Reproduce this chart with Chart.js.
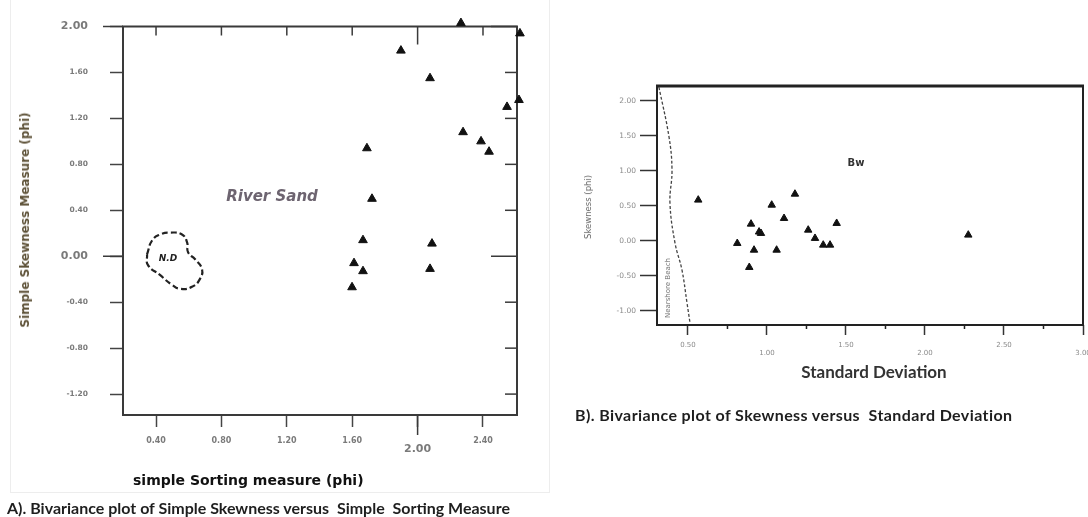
<!DOCTYPE html>
<html lang="en">
<head>
<meta charset="UTF-8" />
<title>Bivariance plots</title>
<script src="https://cdn.jsdelivr.net/npm/chart.js"></script>
<style>
  html, body { margin: 0; padding: 0; background: #fff; }
  body { position: relative; width: 1088px; height: 517px; overflow: hidden; }
  canvas { position: absolute; top: 0; }
  #chartA { left: 0; }
  #chartB { left: 560px; }
  .txt { position: absolute; white-space: pre; line-height: 1; }
  .c { transform: translate(-50%, -50%); }
  .rot { transform: translate(-50%, -50%) rotate(-90deg); }
  .cap { font-family: Lato, "Open Sans", sans-serif; font-weight: 700; font-size: 16px; color: #1e1e1e; }
  .panelA { position: absolute; left: 10px; top: -1px; width: 538px; height: 492px; border: 1px solid #ededed; }
</style>
</head>
<body>
  <div class="panelA"></div>
  <canvas id="chartA" width="545" height="517"></canvas>
  <canvas id="chartB" width="545" height="517"></canvas>

  <div class="txt rot" style="left:25px;top:220px;font:bold 12px 'DejaVu Sans';color:#5e5238">Simple Skewness Measure (phi)</div>
  <div class="txt" style="left:133px;top:472px;font:bold 14px 'DejaVu Sans';color:#111">simple Sorting measure (phi)</div>
  <div class="txt cap" style="left:7px;top:500px">A). Bivariance plot of Simple Skewness versus  Simple  Sorting Measure</div>
  <div class="txt c" style="left:272px;top:196px;font:italic bold 15px 'DejaVu Sans';color:#6d6470">River Sand</div>
  <div class="txt c" style="left:168px;top:258px;font:italic bold 9px 'DejaVu Sans';color:#222">N.D</div>

  <div class="txt rot" style="left:588px;top:207px;font:8.5px 'DejaVu Sans';color:#666">Skewness (phi)</div>
  <div class="txt rot" style="left:668px;top:288px;font:7px 'DejaVu Sans';color:#777">Nearshore Beach</div>
  <div class="txt c" style="left:856px;top:162px;font:bold 10px 'DejaVu Sans';color:#333">Bw</div>
  <div class="txt c" style="left:874px;top:371px;font-family:Lato,'Open Sans',sans-serif;font-weight:700;font-size:17px;color:#333">Standard Deviation</div>
  <div class="txt cap" style="left:575px;top:407px;letter-spacing:0.4px">B). Bivariance plot of Skewness versus  Standard Deviation</div>

  <script>
    // panel A: simple sorting (x) against simple skewness (y)
    const sortA = [2.265, 2.626, 1.898, 2.076, 2.547, 2.620, 2.278, 2.388, 2.437, 1.690, 1.721, 1.666, 2.088, 1.611, 1.666, 2.076, 1.599];
    const skewA = [2.03, 1.94, 1.79, 1.55, 1.30, 1.36, 1.08, 1.00, 0.91, 0.94, 0.50, 0.14, 0.11, -0.06, -0.13, -0.11, -0.27];
    // dashed N.D outline
    const ndX = [0.345, 0.376, 0.424, 0.486, 0.559, 0.590, 0.596, 0.639, 0.681, 0.669, 0.620, 0.547, 0.498, 0.424, 0.351, 0.345];
    const ndY = [0.017, 0.137, 0.189, 0.206, 0.189, 0.120, 0.034, -0.026, -0.112, -0.197, -0.266, -0.283, -0.249, -0.163, -0.077, 0.017];
    const xTicksA = [0.4, 0.8, 1.2, 1.6, 2.0, 2.4];
    const yTicksA = [2.0, 1.6, 1.2, 0.8, 0.4, 0.0, -0.4, -0.8, -1.2];
    const xMajorA = [2.0];
    const yMajorA = [2.0, 0.0];

    // panel B: standard deviation (x) against skewness (y)
    const sdB = [0.565, 1.030, 1.177, 1.108, 0.899, 0.962, 0.950, 0.812, 0.918, 1.061, 0.888, 1.261, 1.304, 1.356, 1.399, 1.441, 2.274];
    const skB = [0.586, 0.514, 0.671, 0.324, 0.243, 0.110, 0.130, -0.033, -0.129, -0.129, -0.376, 0.157, 0.039, -0.057, -0.057, 0.253, 0.086];
    // dashed boundary on the left
    const edgeX = [0.316, 0.380, 0.399, 0.386, 0.418, 0.462, 0.494, 0.513];
    const edgeY = [2.20, 1.486, 1.014, 0.543, -0.029, -0.414, -0.886, -1.171];
    const xTicksB = [0.5, 1.0, 1.5, 2.0, 2.5, 3.0];
    const xMinorB = [0.75, 1.25, 1.75, 2.25, 2.75];
    const yTicksB = [2.0, 1.5, 1.0, 0.5, 0.0, -0.5, -1.0];

    Chart.defaults.font.family = "'DejaVu Sans', sans-serif";

    const pts = (xs, ys) => xs.map((x, i) => ({ x, y: ys[i] }));

    // box round the plot area plus the extra tick marks
    const frame = {
      id: 'frame',
      beforeDatasetsDraw(chart, args, o) {
        const { ctx, chartArea: a, scales } = chart;
        const line = (x1, y1, x2, y2) => { ctx.beginPath(); ctx.moveTo(x1, y1); ctx.lineTo(x2, y2); ctx.stroke(); };
        ctx.save();
        ctx.strokeStyle = o.color;
        ctx.lineWidth = o.width;
        ctx.strokeRect(a.left, a.top, a.right - a.left, a.bottom - a.top);
        if (o.topWidth) {
          ctx.lineWidth = o.topWidth;
          line(a.left - 1, a.top, a.right + 1, a.top);
        }
        ctx.lineWidth = 1.5;
        (o.majorY || []).forEach(v => {
          const py = scales.y.getPixelForValue(v);
          line(a.left - o.majorLen, py, a.left, py);
        });
        (o.majorX || []).forEach(v => {
          const px = scales.x.getPixelForValue(v);
          line(px, a.bottom, px, a.bottom + o.majorLen);
        });
        if (o.mirror) {
          scales.y.ticks.forEach(t => {
            const py = scales.y.getPixelForValue(t.value);
            const len = (o.majorY || []).includes(t.value) ? 26 : 12;
            line(a.right - len, py, a.right, py);
          });
          scales.x.ticks.forEach(t => {
            const px = scales.x.getPixelForValue(t.value);
            const len = (o.majorX || []).includes(t.value) ? 18 : 9;
            line(px, a.top, px, a.top + len);
          });
        }
        (o.minorX || []).forEach(v => {
          const px = scales.x.getPixelForValue(v);
          line(px, a.bottom, px, a.bottom + 4);
        });
        ctx.restore();
      }
    };

    new Chart(document.getElementById('chartA'), {
      type: 'scatter',
      data: {
        datasets: [
          {
            data: pts(ndX, ndY),
            showLine: true,
            borderColor: '#222',
            borderWidth: 2.2,
            borderDash: [6, 3],
            tension: 0.5,
            pointRadius: 0,
            fill: false
          },
          {
            data: pts(sortA, skewA),
            pointStyle: 'triangle',
            pointRadius: 5,
            backgroundColor: '#111',
            borderColor: '#111',
            borderWidth: 1,
            clip: false
          }
        ]
      },
      options: {
        responsive: false,
        animation: false,
        events: [],
        layout: { padding: { top: 21, right: 28, bottom: 0, left: 0 } },
        plugins: {
          legend: { display: false },
          tooltip: { enabled: false },
          frame: { color: '#3a3a3a', width: 2, majorX: xMajorA, majorY: yMajorA, majorLen: 20, mirror: true }
        },
        scales: {
          x: {
            type: 'linear', min: 0.198, max: 2.608,
            afterBuildTicks: s => { s.ticks = xTicksA.map(v => ({ value: v })); },
            afterFit: s => { s.height = 102; },
            border: { display: false },
            grid: { drawOnChartArea: false, tickLength: 12, tickWidth: 1.5, tickColor: '#444' },
            ticks: {
              autoSkip: false, maxRotation: 0, padding: 9, color: '#7a7a7a',
              font: c => xMajorA.includes(c.tick && c.tick.value)
                ? { size: 11, weight: 'bold', lineHeight: 0.8 }
                : { size: 8, weight: 'bold', lineHeight: 1.2 },
              callback: v => xMajorA.includes(v) ? ['', v.toFixed(2)] : v.toFixed(2)
            }
          },
          y: {
            type: 'linear', min: -1.382, max: 2.0,
            afterBuildTicks: s => { s.ticks = yTicksA.map(v => ({ value: v })); },
            afterFit: s => { s.width = 123; },
            border: { display: false },
            grid: { drawOnChartArea: false, tickLength: 13, tickWidth: 1.5, tickColor: '#444' },
            ticks: {
              autoSkip: false, padding: 22, color: '#7a7a7a',
              font: c => yMajorA.includes(c.tick && c.tick.value)
                ? { size: 11, weight: 'bold' }
                : { size: 7.5, weight: 'bold' },
              callback: v => v.toFixed(2)
            }
          }
        }
      },
      plugins: [frame]
    });

    new Chart(document.getElementById('chartB'), {
      type: 'scatter',
      data: {
        datasets: [
          {
            data: pts(edgeX, edgeY),
            showLine: true,
            borderColor: '#444',
            borderWidth: 1.3,
            borderDash: [3, 2],
            tension: 0.4,
            pointRadius: 0,
            fill: false
          },
          {
            data: pts(sdB, skB),
            pointStyle: 'triangle',
            pointRadius: 4.3,
            backgroundColor: '#111',
            borderColor: '#111',
            borderWidth: 1,
            clip: false
          }
        ]
      },
      options: {
        responsive: false,
        animation: false,
        events: [],
        layout: { padding: { top: 86, right: 22, bottom: 162, left: 0 } },
        plugins: {
          legend: { display: false },
          tooltip: { enabled: false },
          frame: { color: '#222', width: 2, topWidth: 3, majorLen: 0, minorX: xMinorB }
        },
        scales: {
          x: {
            type: 'linear', min: 0.304, max: 3.0,
            afterBuildTicks: s => { s.ticks = xTicksB.map(v => ({ value: v })); },
            afterFit: s => { s.height = 30; },
            border: { display: false },
            grid: { drawOnChartArea: false, tickLength: 10, tickWidth: 1.5, tickColor: '#333' },
            ticks: {
              autoSkip: false, maxRotation: 0, padding: 6, color: '#8a8a8a',
              font: { size: 7, lineHeight: 1.15 },
              callback: (v, i) => i % 2 ? ['', v.toFixed(2)] : v.toFixed(2)
            }
          },
          y: {
            type: 'linear', min: -1.2, max: 2.214,
            afterBuildTicks: s => { s.ticks = yTicksB.map(v => ({ value: v })); },
            afterFit: s => { s.width = 97; },
            border: { display: false },
            grid: { drawOnChartArea: false, tickLength: 17, tickWidth: 1.5, tickColor: '#333' },
            ticks: {
              autoSkip: false, padding: 4, color: '#8a8a8a',
              font: { size: 7.5 },
              callback: v => v.toFixed(2)
            }
          }
        }
      },
      plugins: [frame]
    });
  </script>
</body>
</html>
